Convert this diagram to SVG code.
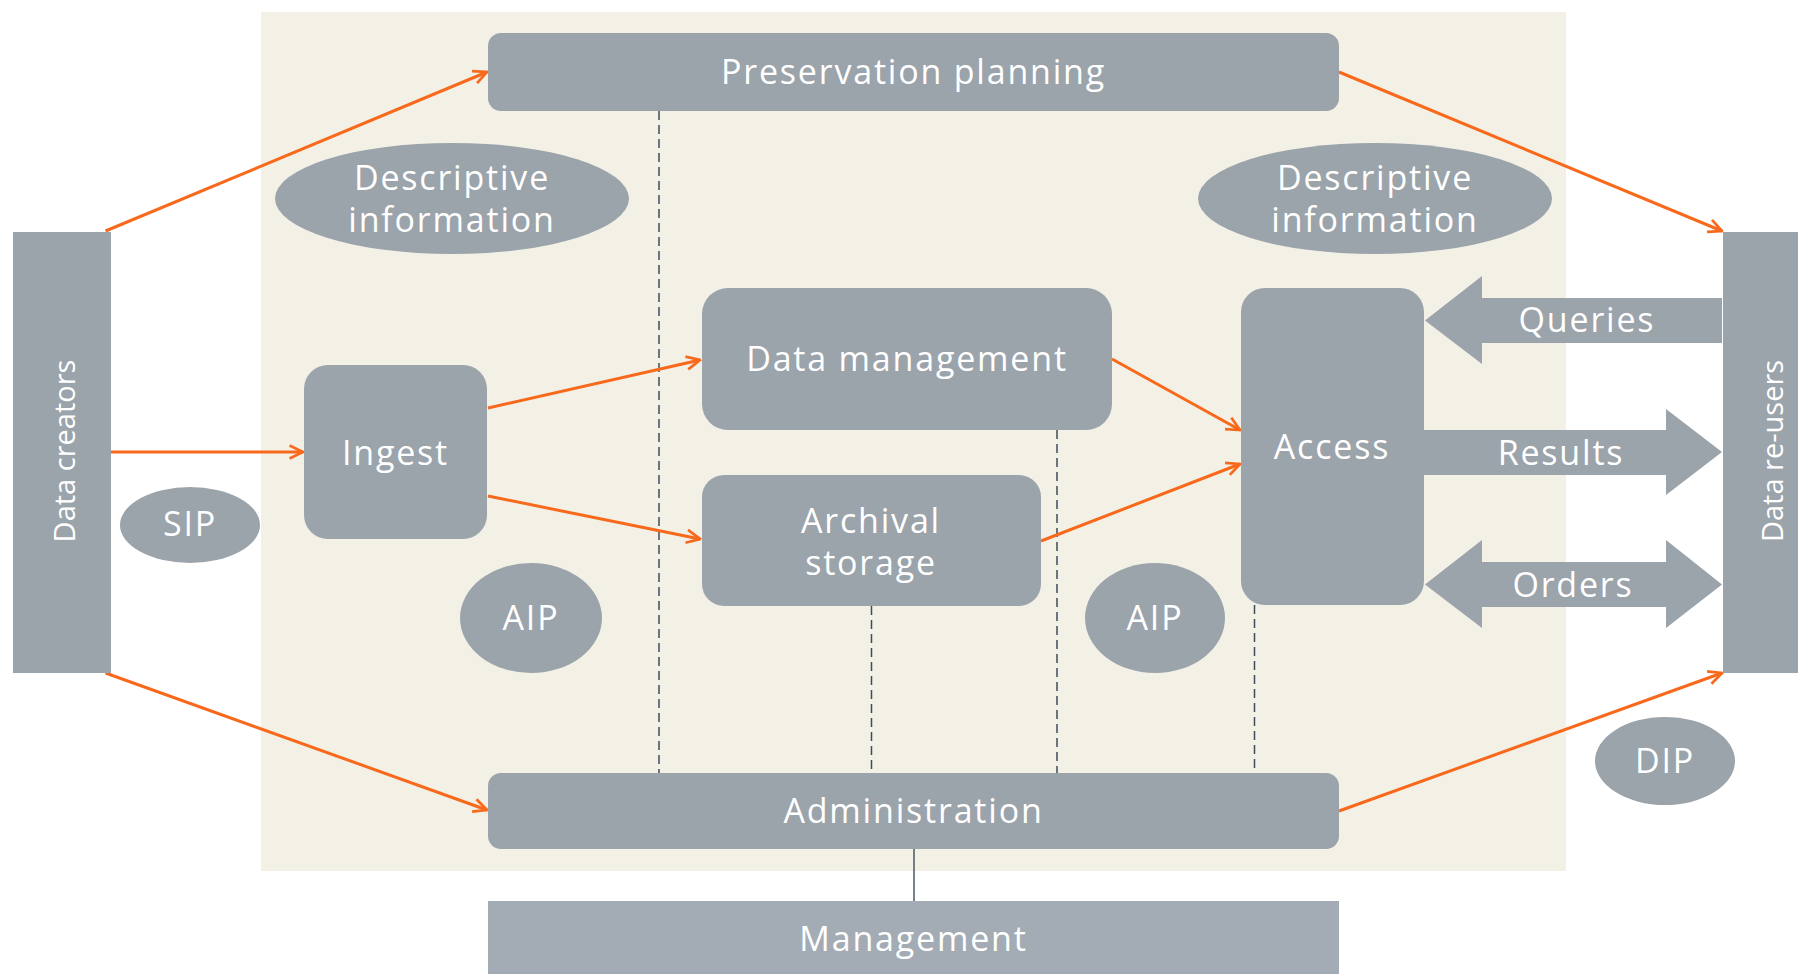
<svg xmlns="http://www.w3.org/2000/svg" width="1798" height="974" viewBox="0 0 1798 974">
<style>
.node{fill:#9ba3ab}
.mgmt{fill:#a3acb4}
.lbl{fill:#ffffff;font-family:"Open Sans","Noto Sans","DejaVu Sans",sans-serif;font-size:34px;text-anchor:middle;dominant-baseline:central;letter-spacing:1.8px}
.vert{font-size:29px;letter-spacing:0}
.arr{stroke:#f8691c;stroke-width:3;fill:none}
.dash{stroke:#3e4b5a;stroke-width:1.5;stroke-dasharray:9 5;fill:none}
</style>
<defs>
<marker id="ah" viewBox="0 0 16 16" refX="14.5" refY="8" markerWidth="16" markerHeight="16" markerUnits="userSpaceOnUse" orient="auto">
<path d="M1,1.5 L14.5,8 L1,14.5" fill="none" stroke="#f8691c" stroke-width="2.7"/>
</marker>
</defs>
<rect x="0" y="0" width="1798" height="974" fill="#ffffff"/>
<rect id="panel" x="261" y="12" width="1305" height="859" fill="#f3f0e6"/>

<g id="connectors">
<line class="dash" x1="659" y1="111" x2="659" y2="773"/>
<line class="dash" x1="871.5" y1="606" x2="871.5" y2="773"/>
<line class="dash" x1="1057" y1="430" x2="1057" y2="773"/>
<line class="dash" x1="1254.5" y1="605" x2="1254.5" y2="773"/>
<line x1="914" y1="848" x2="914" y2="916" stroke="#4a5868" stroke-width="1.5"/>
<line class="arr" x1="105.5" y1="231" x2="487" y2="72" marker-end="url(#ah)"/>
<line class="arr" x1="1339" y1="72" x2="1722" y2="231" marker-end="url(#ah)"/>
<line class="arr" x1="111" y1="452" x2="303" y2="452" marker-end="url(#ah)"/>
<line class="arr" x1="488" y1="408" x2="700" y2="360" marker-end="url(#ah)"/>
<line class="arr" x1="488" y1="496" x2="700" y2="539" marker-end="url(#ah)"/>
<line class="arr" x1="1112" y1="359" x2="1240" y2="430" marker-end="url(#ah)"/>
<line class="arr" x1="1041" y1="541" x2="1240" y2="464" marker-end="url(#ah)"/>
<line class="arr" x1="105.5" y1="673" x2="487" y2="810" marker-end="url(#ah)"/>
<line class="arr" x1="1339" y1="811" x2="1722" y2="673" marker-end="url(#ah)"/>
</g>

<g id="preservation-planning">
<rect class="node" x="488" y="33" width="851" height="78" rx="13"/>
<text class="lbl" x="913.5" y="71">Preservation planning</text>
</g>
<g id="descriptive-info-left">
<ellipse class="node" cx="452" cy="198.5" rx="177" ry="55.5"/>
<text class="lbl" x="452" y="177">Descriptive</text>
<text class="lbl" x="452" y="219">information</text>
</g>
<g id="descriptive-info-right">
<ellipse class="node" cx="1375" cy="198.5" rx="177" ry="55.5"/>
<text class="lbl" x="1375" y="177">Descriptive</text>
<text class="lbl" x="1375" y="219">information</text>
</g>
<g id="data-creators">
<rect class="node" x="13" y="232" width="98" height="441"/>
<text class="lbl vert" transform="translate(63,451) rotate(-90)" x="0" y="0">Data creators</text>
</g>
<g id="data-re-users">
<rect class="node" x="1723" y="232" width="75" height="441"/>
<text class="lbl vert" transform="translate(1771,451) rotate(-90)" x="0" y="0">Data re-users</text>
</g>
<g id="ingest">
<rect class="node" x="304" y="365" width="183" height="174" rx="24"/>
<text class="lbl" x="395.5" y="452">Ingest</text>
</g>
<g id="data-management">
<rect class="node" x="702" y="288" width="410" height="142" rx="26"/>
<text class="lbl" x="907" y="358">Data management</text>
</g>
<g id="archival-storage">
<rect class="node" x="702" y="475" width="339" height="131" rx="22"/>
<text class="lbl" x="871" y="520">Archival</text>
<text class="lbl" x="871" y="562">storage</text>
</g>
<g id="access">
<rect class="node" x="1241" y="288" width="183" height="317" rx="24"/>
<text class="lbl" x="1332" y="446">Access</text>
</g>
<g id="queries">
<polygon class="node" points="1722,298 1482,298 1482,276 1425,320.5 1482,364 1482,343 1722,343"/>
<text class="lbl" x="1587" y="319">Queries</text>
</g>
<g id="results">
<polygon class="node" points="1424,430 1666,430 1666,409 1722,452 1666,495 1666,475 1424,475"/>
<text class="lbl" x="1561" y="452">Results</text>
</g>
<g id="orders">
<polygon class="node" points="1425,584.5 1482,540 1482,562 1666,562 1666,540 1722,584.5 1666,628 1666,607 1482,607 1482,628"/>
<text class="lbl" x="1573" y="584">Orders</text>
</g>
<g id="sip">
<ellipse class="node" cx="190" cy="525" rx="70" ry="38"/>
<text class="lbl" x="190" y="523">SIP</text>
</g>
<g id="aip-left">
<ellipse class="node" cx="531" cy="618" rx="71" ry="55"/>
<text class="lbl" x="531" y="617">AIP</text>
</g>
<g id="aip-right">
<ellipse class="node" cx="1155" cy="618" rx="70" ry="55"/>
<text class="lbl" x="1155" y="617">AIP</text>
</g>
<g id="dip">
<ellipse class="node" cx="1665" cy="761" rx="70" ry="44"/>
<text class="lbl" x="1665" y="760">DIP</text>
</g>
<g id="administration">
<rect class="node" x="488" y="773" width="851" height="76" rx="13"/>
<text class="lbl" x="913.5" y="810">Administration</text>
</g>
<g id="management">
<rect class="mgmt" x="488" y="901" width="851" height="73"/>
<text class="lbl" x="913.5" y="938">Management</text>
</g>
</svg>
